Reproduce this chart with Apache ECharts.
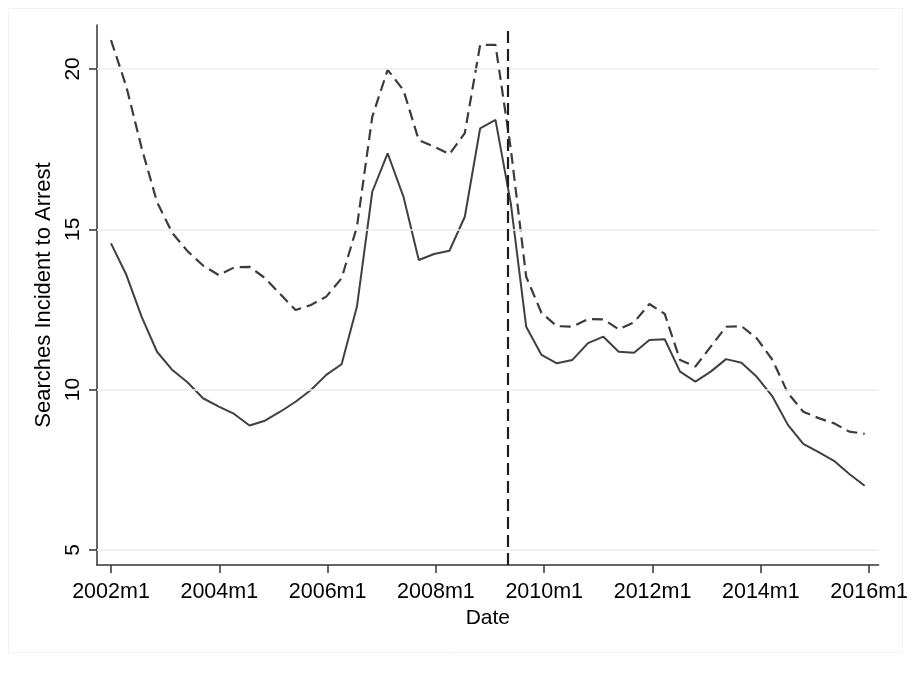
<!DOCTYPE html>
<html>
<head>
<meta charset="utf-8">
<script src="https://cdn.jsdelivr.net/npm/echarts@6/dist/echarts.min.js"></script>
<style>
html,body{margin:0;padding:0;background:#fff;}
#chart{width:911px;height:681px;}
</style>
</head>
<body>
<div id="chart"></div>
<script>
// Months since 2002m1 for each observation
var months = [0, 3.4, 6.8, 10.2, 13.6, 17.0, 20.4, 23.9, 27.3, 30.7, 34.1, 37.5, 40.9, 44.3, 47.7, 51.1, 54.5, 57.9, 61.3, 64.8, 68.2, 71.6, 75.0, 78.4, 81.8, 85.2, 88.6, 92.0, 95.4, 98.8, 102.2, 105.7, 109.1, 112.5, 115.9, 119.3, 122.7, 126.1, 129.5, 132.9, 136.3, 139.7, 143.1, 146.6, 150.0, 153.4, 156.8, 160.2, 163.6, 167.0];
var solidValues = [14.56, 13.58, 12.27, 11.18, 10.61, 10.22, 9.73, 9.47, 9.24, 8.88, 9.03, 9.31, 9.62, 9.99, 10.46, 10.79, 12.59, 16.17, 17.37, 16.02, 14.04, 14.23, 14.33, 15.39, 18.15, 18.41, 15.8, 11.96, 11.08, 10.82, 10.92, 11.45, 11.65, 11.18, 11.15, 11.55, 11.57, 10.56, 10.25, 10.56, 10.95, 10.84, 10.40, 9.78, 8.90, 8.31, 8.05, 7.78, 7.37, 7.00];
var dashedValues = [20.90, 19.45, 17.53, 15.85, 14.88, 14.31, 13.87, 13.57, 13.81, 13.83, 13.48, 12.98, 12.48, 12.64, 12.90, 13.47, 15.08, 18.51, 19.97, 19.34, 17.78, 17.58, 17.34, 18.0, 20.75, 20.75, 17.5, 13.52, 12.39, 11.98, 11.96, 12.2, 12.19, 11.88, 12.1, 12.67, 12.36, 10.92, 10.72, 11.34, 11.96, 11.98, 11.60, 10.92, 9.89, 9.31, 9.11, 8.95, 8.69, 8.62];
var xTicks = [0, 24, 48, 72, 96, 120, 144, 168];
var xTickLabels = ['2002m1', '2004m1', '2006m1', '2008m1', '2010m1', '2012m1', '2014m1', '2016m1'];
var yTicks = [5, 10, 15, 20];
var cutoffMonth = 88; // 2009m5

var FONT = 'Liberation Sans, Arial, sans-serif';
var chart = echarts.init(document.getElementById('chart'), null, {renderer: 'canvas'});

function pairs(xs, ys) { return xs.map(function (x, i) { return [x, ys[i]]; }); }

chart.setOption({
  backgroundColor: '#ffffff',
  animation: false,
  graphic: [{
    type: 'rect', silent: true, z: -10,
    shape: {x: 8.5, y: 8.5, width: 894, height: 644},
    style: {fill: 'none', stroke: '#f2f2f2', lineWidth: 1}
  }],
  grid: {left: 97, right: 31, top: 25, bottom: 116},
  xAxis: {
    type: 'value', min: -3.1, max: 170.1,
    name: 'Date', nameLocation: 'middle', nameGap: 41,
    nameTextStyle: {color: '#000', fontSize: 21, fontFamily: FONT},
    axisLine: {show: true, onZero: false, lineStyle: {color: '#333', width: 1.5}},
    axisTick: {show: true, length: 8, customValues: xTicks, lineStyle: {color: '#333', width: 1.5}},
    axisLabel: {
      customValues: xTicks, margin: 16, color: '#000', fontSize: 21.5, fontFamily: FONT,
      formatter: function (v) { return xTickLabels[xTicks.indexOf(v)] || ''; }
    },
    splitLine: {show: false}
  },
  yAxis: {
    type: 'value', min: 4.53, max: 21.37,
    name: 'Searches Incident to Arrest', nameLocation: 'middle', nameGap: 42, nameRotate: 90,
    nameTextStyle: {color: '#000', fontSize: 22, fontFamily: FONT},
    axisLine: {show: true, onZero: false, lineStyle: {color: '#333', width: 1.5}},
    axisTick: {show: true, length: 8, customValues: yTicks, lineStyle: {color: '#333', width: 1.5}},
    axisLabel: {customValues: yTicks, rotate: 90, margin: 13, color: '#000', fontSize: 21, fontFamily: FONT},
    splitLine: {show: false}
  },
  series: [
    {
      type: 'line', name: 'grid', data: [], silent: true,
      markLine: {
        silent: true, symbol: 'none', label: {show: false},
        lineStyle: {color: '#ececec', type: 'solid', width: 1.5},
        data: yTicks.map(function (v) { return {yAxis: v}; })
      }
    },
    {
      type: 'line', name: 'upper', data: pairs(months, dashedValues),
      showSymbol: false, symbol: 'none', z: 3,
      lineStyle: {color: '#3c3c3c', width: 2.2, type: [11, 6]}
    },
    {
      type: 'line', name: 'lower', data: pairs(months, solidValues),
      showSymbol: false, symbol: 'none', z: 3,
      lineStyle: {color: '#404040', width: 2, type: 'solid'},
      markLine: {
        silent: true, symbol: 'none', label: {show: false},
        lineStyle: {color: '#1e1e1e', type: [12, 6], width: 2.2},
        data: [{xAxis: cutoffMonth}]
      }
    }
  ]
});
</script>
</body>
</html>
